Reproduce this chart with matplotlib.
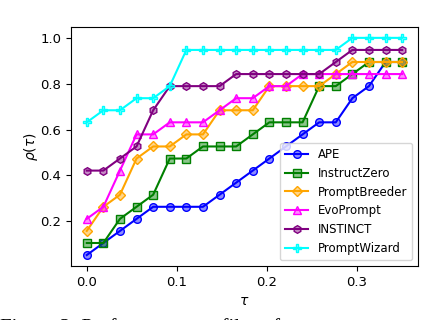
import numpy as np
import matplotlib
matplotlib.use("Agg")
import matplotlib.pyplot as plt
from matplotlib.colors import to_rgba

n_tasks = 19
tau = np.linspace(0, 0.35, 20)

ape = [1, 2, 3, 4, 5, 5, 5, 5, 6, 7, 8, 9, 10, 11, 12, 12, 14, 15, 17, 17]
instructzero = [2, 2, 4, 5, 6, 9, 9, 10, 10, 10, 11, 12, 12, 12, 15, 15, 16, 17, 17, 17]
promptbreeder = [3, 5, 6, 9, 10, 10, 11, 11, 13, 13, 13, 15, 15, 15, 15, 16, 17, 17, 17, 17]
evoprompt = [4, 5, 8, 11, 11, 12, 12, 12, 13, 14, 14, 15, 15, 16, 16, 16, 16, 16, 16, 16]
instinct = [8, 8, 9, 10, 13, 15, 15, 15, 15, 16, 16, 16, 16, 16, 16, 17, 18, 18, 18, 18]
promptwizard = [12, 13, 13, 14, 14, 15, 18, 18, 18, 18, 18, 18, 18, 18, 18, 18, 19, 19, 19, 19]

labels = ["APE", "InstructZero", "PromptBreeder", "EvoPrompt", "INSTINCT", "PromptWizard"]
series = [ape, instructzero, promptbreeder, evoprompt, instinct, promptwizard]
colors = ["blue", "green", "orange", "magenta", "purple", "cyan"]
markers = ["o", "s", "D", "^", "h", "P"]

fig = plt.figure(figsize=(4.42, 3.2), dpi=100)
ax = fig.add_axes([0.1606, 0.169, 0.785, 0.7466])

for lab, s, c, m in zip(labels, series, colors, markers):
    y = np.array(s) / n_tasks
    ax.plot(tau, y, color=c, lw=1.5, marker=m, markersize=5.5,
            markerfacecolor=to_rgba(c, 0.45), markeredgecolor=c,
            markeredgewidth=1.0, label=lab)

ax.set_xticks([0.0, 0.1, 0.2, 0.3])
ax.set_yticks([0.2, 0.4, 0.6, 0.8, 1.0])
ax.tick_params(labelsize=9.5)
ax.set_xlabel(r"$\tau$", fontsize=10)
ax.set_ylabel(r"$\rho(\tau)$", fontsize=10, labelpad=0)
ax.legend(loc="lower right", fontsize=8.5)

fig.text(0.0, 0.005, "Figure 3: Performance profiles of", ha="left", va="top",
         fontsize=15, family="Liberation Serif")

fig.savefig("out.png", dpi=100)
